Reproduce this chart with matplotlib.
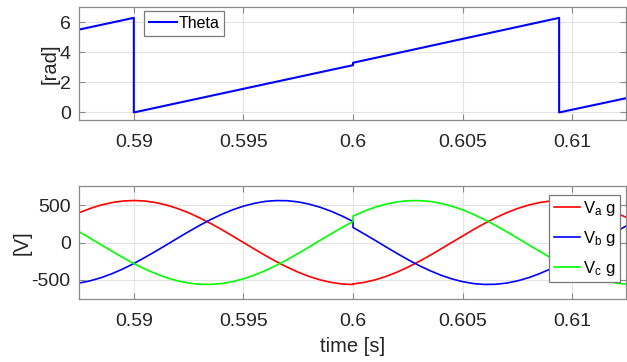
import matplotlib
matplotlib.use("Agg")
import matplotlib.pyplot as plt

plt.rcParams['font.family'] = ['Liberation Sans', 'DejaVu Sans']
plt.rcParams['mathtext.fontset'] = 'custom'
plt.rcParams['mathtext.rm'] = 'Liberation Sans'

# ---- Theta (sawtooth) ----
theta_t = [0.5875, 0.5900, 0.5900, 0.6000, 0.6000, 0.6094, 0.6094, 0.6125]
theta_v = [5.50, 6.28, 0.00, 3.14, 3.30, 6.28, 0.00, 0.96]

# ---- Phase voltages, sampled every 0.5 ms (two samples at 0.6 s for the jump) ----
v_t = [0.5875, 0.5880, 0.5885, 0.5890, 0.5895, 0.5900, 0.5905, 0.5910, 0.5915, 0.5920,
       0.5925, 0.5930, 0.5935, 0.5940, 0.5945, 0.5950, 0.5955, 0.5960, 0.5965, 0.5970,
       0.5975, 0.5980, 0.5985, 0.5990, 0.5995, 0.6000, 0.6000, 0.6005, 0.6010, 0.6015,
       0.6020, 0.6025, 0.6030, 0.6035, 0.6040, 0.6045, 0.6050, 0.6055, 0.6060, 0.6065,
       0.6070, 0.6075, 0.6080, 0.6085, 0.6090, 0.6095, 0.6100, 0.6105, 0.6110, 0.6115,
       0.6120, 0.6125]
va = [400, 457, 503, 537, 558, 565, 558, 537, 503, 457,
      400, 332, 257, 175, 88, 0, -88, -175, -257, -332,
      -400, -457, -503, -537, -558, -565, -558, -537, -503, -457,
      -400, -332, -257, -175, -88, 0, 88, 175, 257, 332,
      400, 457, 503, 537, 558, 565, 558, 537, 503, 457,
      400, 332]
vb = [-546, -516, -474, -420, -356, -283, -202, -117, -30, 59,
      146, 230, 308, 378, 439, 489, 527, 553, 564, 562,
      546, 516, 474, 420, 356, 283, 202, 117, 30, -59,
      -146, -230, -308, -378, -439, -489, -527, -553, -564, -562,
      -546, -516, -474, -420, -356, -283, -202, -117, -30, 59,
      146, 230]
vc = [146, 59, -30, -117, -202, -283, -356, -420, -474, -516,
      -546, -562, -564, -553, -527, -489, -439, -378, -308, -230,
      -146, -59, 30, 117, 202, 283, 356, 420, 474, 516,
      546, 562, 564, 553, 527, 489, 439, 378, 308, 230,
      146, 59, -30, -117, -202, -283, -356, -420, -474, -516,
      -546, -562]

x_ticks = [0.59, 0.595, 0.6, 0.605, 0.61]
x_ticklabels = ['0.59', '0.595', '0.6', '0.605', '0.61']
theta_yticks = [0, 2, 4, 6]
v_yticks = [-500, 0, 500]
v_yticklabels = ['-500', '0', '500']

spine_c = '#8a8a8a'
text_c = '#262626'
fs = 14

fig = plt.figure(figsize=(6.27, 3.62), dpi=100)
ax1 = fig.add_axes([79/627, 1-120/362, 547/627, 113/362])
ax2 = fig.add_axes([79/627, 1-299/362, 547/627, 113/362])

def style(ax):
    for s in ax.spines.values():
        s.set_color(spine_c)
        s.set_linewidth(0.9)
    ax.tick_params(direction='in', length=4, width=0.8, colors=spine_c,
                   labelcolor=text_c, labelsize=fs, top=True, right=True)
    ax.tick_params(axis='x', pad=10)
    ax.tick_params(axis='y', pad=6)
    ax.grid(True, color='#e3e3e3', linewidth=0.8)
    ax.set_axisbelow(True)
    ax.set_xticks(x_ticks)
    ax.set_xticklabels(x_ticklabels)
    ax.set_xlim(0.5875, 0.61245)

ax1.plot(theta_t, theta_v, color=(0, 0, 1), lw=1.5, label='Theta')
style(ax1)
ax1.set_ylim(-0.5, 7)
ax1.set_yticks(theta_yticks)
ax1.set_ylabel('[rad]', fontsize=fs + 0.5, color=text_c, labelpad=0)
leg1 = ax1.legend(loc='upper left', bbox_to_anchor=(0.119, 0.965), borderaxespad=0,
                  fontsize=11.5, handlelength=1.75, handletextpad=0.1, borderpad=0.3,
                  fancybox=False, framealpha=1, edgecolor='#7a7a7a')
leg1.get_frame().set_linewidth(0.9)

ax2.plot(v_t, va, color=(1, 0, 0), lw=1.2, label=r'$\mathregular{V_a}$ g')
ax2.plot(v_t, vb, color=(0, 0, 1), lw=1.2, label=r'$\mathregular{V_b}$ g')
ax2.plot(v_t, vc, color=(0, 1, 0), lw=1.2, label=r'$\mathregular{V_c}$ g')
style(ax2)
ax2.set_ylim(-760, 760)
ax2.set_yticks(v_yticks)
ax2.set_yticklabels(v_yticklabels)
ax2.set_ylabel('[V]', fontsize=fs + 0.5, color=text_c, labelpad=0)
ax2.set_xlabel('time [s]', fontsize=fs + 0.5, color=text_c, labelpad=5)
leg2 = ax2.legend(loc='upper right', bbox_to_anchor=(0.989, 0.92), borderaxespad=0,
                  fontsize=12, handlelength=1.6, handletextpad=0.15, borderpad=0.25,
                  labelspacing=0.65, fancybox=False, framealpha=1, edgecolor='#7a7a7a')
leg2.get_frame().set_linewidth(0.9)

fig.savefig('out.png', dpi=100)
